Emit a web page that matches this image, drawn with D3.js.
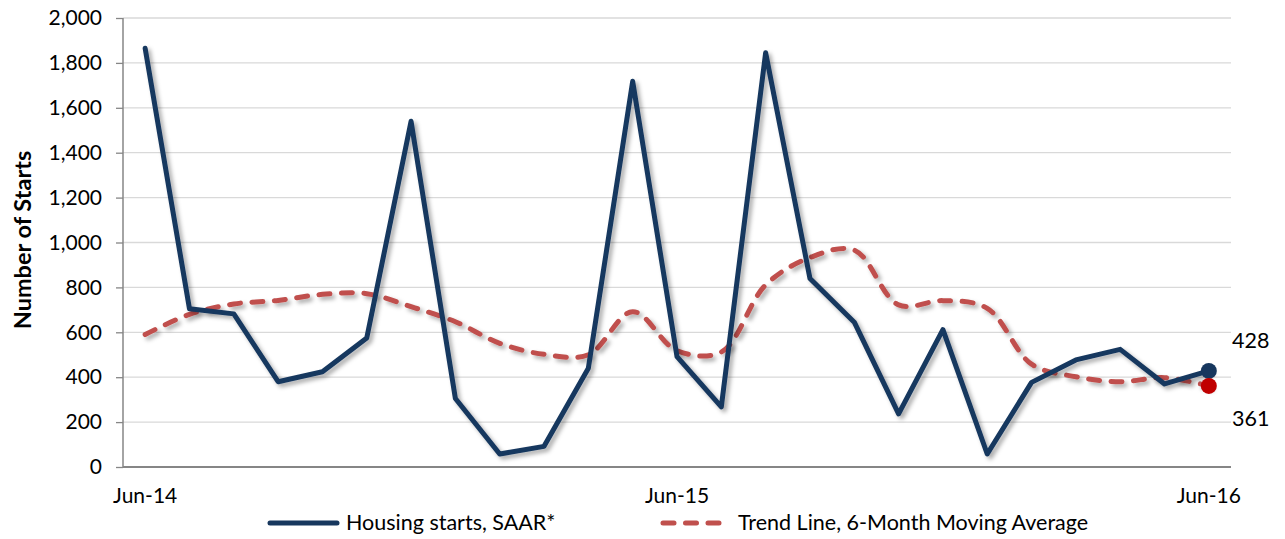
<!DOCTYPE html>
<html><head><meta charset="utf-8">
<script src="https://cdn.jsdelivr.net/npm/d3@7"></script>
<style>body{margin:0;background:#fff}svg{display:block;font-family:Lato,"Open Sans",sans-serif}</style>
</head><body><svg id="c" width="1285" height="539"></svg>
<script>
const months = ["Jun-14","Jul-14","Aug-14","Sep-14","Oct-14","Nov-14","Dec-14","Jan-15","Feb-15","Mar-15","Apr-15","May-15","Jun-15","Jul-15","Aug-15","Sep-15","Oct-15","Nov-15","Dec-15","Jan-16","Feb-16","Mar-16","Apr-16","May-16","Jun-16"];
const housingStarts = [1865,705,682,380,424,575,1540,305,58,92,440,1718,492,268,1845,840,645,237,612,58,377,477,524,370,428];
const trendLine = [590,680,726,742,769,772,714,647,551,502,500,692,518,512,811,933,966,722,741,707,458,402,380,398,361];
const tickLabels = ["Jun-14","Jun-15","Jun-16"];
const yTicks = [0,200,400,600,800,1000,1200,1400,1600,1800,2000];
const seriesNames = ["Housing starts, SAAR*","Trend Line, 6-Month Moving Average"];

const svg = d3.select("#c");
const L=123,R=1231,T=18,B=467;
const x = d3.scaleBand().domain(months).range([L,R]);
const cx = m => x(m)+x.bandwidth()/2;
const y = d3.scaleLinear().domain([0,2000]).range([B,T]);

const defs = svg.append("defs");
const f = defs.append("filter").attr("id","sh").attr("x","-10%").attr("y","-10%").attr("width","120%").attr("height","120%");
f.append("feDropShadow").attr("dx",3).attr("dy",3).attr("stdDeviation",2.2).attr("flood-color","#000").attr("flood-opacity",0.33);

// gridlines
svg.append("g").selectAll("line").data(yTicks.filter(d=>d>0)).join("line")
  .attr("x1",L).attr("x2",R).attr("y1",d=>y(d)).attr("y2",d=>y(d))
  .attr("stroke","#d9d9d9").attr("stroke-width",1.3);

// y axis
const ya = svg.append("g").attr("transform",`translate(${L},0)`)
  .call(d3.axisLeft(y).tickValues(yTicks).tickFormat(d3.format(",")).tickSize(7).tickPadding(14));
ya.select(".domain").attr("stroke","#868686").attr("stroke-width",1.5).attr("d",`M0,${T}V${B}`);
ya.selectAll(".tick line").attr("stroke","#868686").attr("stroke-width",1.3);
ya.selectAll("text").attr("font-size",21).attr("fill","#000").attr("font-family","Lato");

// x axis
const xa = svg.append("g").attr("transform",`translate(0,${B})`)
  .call(d3.axisBottom(x).tickValues(tickLabels).tickSize(0).tickPadding(21));
xa.select(".domain").attr("stroke","#868686").attr("stroke-width",2).attr("d",`M${L},0H${R}`);
xa.selectAll("text").attr("font-size",21).attr("fill","#000").attr("font-family","Lato");

// y title
svg.append("text").attr("transform",`translate(31,240) rotate(-90)`).attr("text-anchor","middle")
  .attr("font-size",23.5).attr("font-weight","bold").text("Number of Starts");

// lines
const lineH = d3.line().x((d,i)=>cx(months[i])).y(d=>y(d));
const lineT = d3.line().x((d,i)=>cx(months[i])).y(d=>y(d)).curve(d3.curveCatmullRom.alpha(0.5));

svg.append("path").datum(trendLine).attr("d",lineT).attr("fill","none")
  .attr("stroke","#c0504d").attr("stroke-width",5).attr("stroke-dasharray","11,11.5").attr("stroke-linecap","round")
  .attr("filter","url(#sh)");
svg.append("path").datum(housingStarts).attr("d",lineH).attr("fill","none")
  .attr("stroke","#17375e").attr("stroke-width",5).attr("stroke-linejoin","round").attr("stroke-linecap","round")
  .attr("filter","url(#sh)");

// end markers
const lastM = months[months.length-1];
const hLast = housingStarts[housingStarts.length-1], tLast = trendLine[trendLine.length-1];
svg.append("circle").attr("cx",cx(lastM)).attr("cy",y(hLast)).attr("r",8).attr("fill","#17375e");
svg.append("circle").attr("cx",cx(lastM)).attr("cy",y(tLast)).attr("r",8).attr("fill","#c00000");
svg.append("text").attr("x",1232).attr("y",348).attr("font-size",21.5).text(hLast);
svg.append("text").attr("x",1232).attr("y",426).attr("font-size",21.5).text(tLast);

// legend
const lg = svg.append("g");
lg.append("line").attr("x1",270).attr("x2",337).attr("y1",523).attr("y2",523).attr("stroke","#17375e").attr("stroke-width",5).attr("stroke-linecap","round");
lg.append("text").attr("x",346).attr("y",530).attr("font-size",21.5).text(seriesNames[0]);
lg.append("line").attr("x1",663).attr("x2",720).attr("y1",523).attr("y2",523).attr("stroke","#c0504d").attr("stroke-width",5).attr("stroke-dasharray","11,11.5").attr("stroke-linecap","round");
lg.append("text").attr("x",738).attr("y",530).attr("font-size",21.5).text(seriesNames[1]);
</script></body></html>
